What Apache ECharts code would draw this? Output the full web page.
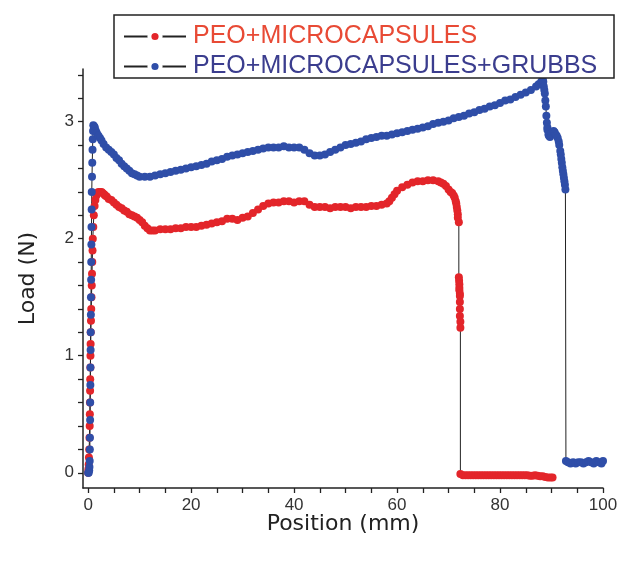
<!DOCTYPE html>
<html>
<head>
<meta charset="utf-8">
<style>
  html, body { margin: 0; padding: 0; background: #fff; }
  #chart { width: 623px; height: 561px; }
</style>
<script src="https://cdn.jsdelivr.net/npm/echarts@6/dist/echarts.min.js"></script>
</head>
<body>
<div id="chart"></div>
<script>
// ---- data (Position mm, Load N) ----
const seriesNames = ['PEO+MICROCAPSULES', 'PEO+MICROCAPSULES+GRUBBS'];

const redData = [
  [0,0],[0.05,0.03],[0.1,0.07],[0.15,0.13],[0.2,0.2],[0.25,0.3],[0.3,0.4],[0.33,0.5],[0.35,0.6],[0.38,0.7],
  [0.4,0.8],[0.43,0.9],[0.45,1.0],[0.48,1.1],[0.5,1.2],[0.55,1.3],[0.6,1.4],[0.65,1.5],[0.7,1.6],[0.75,1.7],
  [0.8,1.8],[0.85,1.9],[0.9,2.0],[1.0,2.1],[1.1,2.2],[1.25,2.28],[1.4,2.33],[1.6,2.37],[1.8,2.39],[2.0,2.40],
  [2.3,2.40],[2.6,2.40],[2.8,2.39],[3.1,2.38],[3.3,2.37],[3.6,2.36],[4,2.34],[4.5,2.33],[5,2.31],[5.5,2.29],
  [6,2.27],[6.5,2.26],[7,2.24],[7.5,2.23],[8,2.21],[8.5,2.20],[9,2.19],[9.5,2.18],[10,2.16],[10.5,2.14],
  [11,2.11],[11.5,2.09],[12,2.07],[12.5,2.07],[13,2.07],[14,2.08],[15,2.08],
  [16,2.08],[17,2.09],[18,2.09],[19,2.10],[20,2.10],[21,2.10],[22,2.11],[23,2.12],[24,2.13],[25,2.14],
  [26,2.15],[27,2.17],[28,2.17],[29,2.16],[30,2.18],[31,2.19],[32,2.22],[33,2.25],[34,2.28],[35,2.30],
  [36,2.31],[37,2.31],[38,2.32],[39,2.32],[40,2.31],[41,2.32],[42,2.32],[43,2.29],[44,2.27],[45,2.27],
  [46,2.27],[47,2.26],[48,2.27],[49,2.27],[50,2.27],[51,2.26],[52,2.27],[53,2.27],[54,2.27],[55,2.28],
  [56,2.28],[57,2.29],[58,2.30],[58.5,2.32],[59,2.35],[59.5,2.38],[60,2.41],[61,2.44],[62,2.46],[63,2.48],
  [64,2.49],[65,2.49],[66,2.50],[67,2.50],[68,2.49],[68.5,2.48],[69,2.47],[69.5,2.45],[70,2.42],[70.4,2.40],
  [70.7,2.39],[71,2.37],[71.2,2.35],[71.4,2.32],[71.5,2.30],[71.6,2.27],[71.7,2.24],[71.8,2.21],
  [71.8,2.18],[72,2.14],
  [72.0,1.67],[72.05,1.64],[72.1,1.61],[72.1,1.58],[72.1,1.56],[72.2,1.53],[72.2,1.51],[72.2,1.46],
  [72.2,1.40],[72.2,1.34],[72.3,1.29],[72.3,1.24],
  [72.3,-0.01],[72.8,-0.02],[73.3,-0.02],[73.8,-0.02],[74.3,-0.02],[74.8,-0.02],[75.3,-0.02],[75.8,-0.02],
  [76.3,-0.02],[76.8,-0.02],[77.3,-0.02],[77.8,-0.02],[78.3,-0.02],[78.8,-0.02],[79.3,-0.02],[79.8,-0.02],
  [80.3,-0.02],[80.8,-0.02],[81.3,-0.02],[81.8,-0.02],[82.3,-0.02],[82.8,-0.02],[83.3,-0.02],[83.8,-0.02],
  [84.3,-0.02],[84.8,-0.02],[85.3,-0.02],[85.8,-0.025],[86.3,-0.025],[86.8,-0.02],[87.3,-0.025],
  [87.8,-0.03],[88.3,-0.03],[88.8,-0.035],[89.3,-0.04],[89.8,-0.04],[90.2,-0.04]
];

const blueData = [
  [0,0],[0.1,0.0],[0.2,0.02],[0.25,0.05],[0.3,0.1],[0.33,0.2],[0.35,0.3],[0.38,0.45],[0.4,0.6],[0.43,0.75],
  [0.45,0.9],[0.48,1.05],[0.5,1.2],[0.53,1.35],[0.55,1.5],[0.58,1.65],[0.6,1.8],[0.63,1.95],[0.65,2.1],
  [0.68,2.25],[0.7,2.4],[0.75,2.53],[0.8,2.65],[0.85,2.76],[0.9,2.85],[0.95,2.92],[1.0,2.97],[1.15,2.96],
  [1.3,2.95],[1.5,2.92],[1.7,2.90],[2.0,2.88],[2.3,2.86],[2.6,2.84],[3,2.81],[3.5,2.78],[4,2.76],[4.5,2.74],
  [5,2.72],[5.5,2.69],[6,2.67],[6.5,2.64],[7,2.62],[7.5,2.60],[8,2.58],[8.5,2.56],[9,2.55],[9.5,2.54],
  [10,2.53],[11,2.53],[12,2.53],[13,2.54],[14,2.55],[15,2.56],
  [16,2.57],[17,2.58],[18,2.59],[19,2.60],[20,2.61],[21,2.62],[22,2.63],[23,2.64],[24,2.66],[25,2.67],
  [26,2.68],[27,2.70],[28,2.71],[29,2.72],[30,2.73],[31,2.74],[32,2.75],[33,2.76],[34,2.77],[35,2.78],
  [36,2.78],[37,2.78],[38,2.79],[39,2.78],[40,2.78],[41,2.78],[42,2.76],[43,2.73],[44,2.71],[45,2.71],
  [46,2.72],[47,2.74],[48,2.76],[49,2.78],[50,2.80],[51,2.81],[52,2.82],[53,2.83],[54,2.85],[55,2.86],
  [56,2.87],[57,2.88],[58,2.88],[59,2.89],[60,2.90],[61,2.91],[62,2.92],[63,2.93],[64,2.94],[65,2.95],
  [66,2.96],[67,2.98],[68,2.99],[69,3.00],[70,3.01],[71,3.03],[72,3.04],[73,3.05],[74,3.07],[75,3.08],
  [76,3.10],[77,3.11],[78,3.13],[79,3.14],[80,3.16],[81,3.18],[82,3.19],[83,3.21],[84,3.23],[85,3.25],
  [86,3.27],[87,3.30],[87.5,3.32],[88,3.34],[88.3,3.36],[88.4,3.34],[88.5,3.30],[88.6,3.27],[88.7,3.24],
  [88.8,3.18],[88.9,3.13],
  [89,3.05],[89.1,2.99],[89.2,2.95],[89.2,2.93],[89.4,2.89],[89.5,2.88],[89.7,2.87],[89.9,2.89],[90,2.90],
  [90.2,2.91],[90.4,2.92],[90.6,2.91],[90.8,2.89],[91.0,2.88],[91.2,2.86],[91.4,2.83],[91.5,2.80],
  [91.7,2.75],[91.8,2.72],[91.9,2.68],[92,2.65],[92.1,2.61],[92.2,2.58],[92.3,2.55],[92.4,2.52],[92.5,2.49],
  [92.6,2.46],[92.7,2.42],
  [92.8,0.10],[93.2,0.09],[93.7,0.08],[94.2,0.09],[94.7,0.08],[95.2,0.09],[95.7,0.09],[96.2,0.08],
  [96.7,0.09],[97.2,0.10],[97.7,0.09],[98.2,0.08],[98.7,0.10],[99.2,0.09],[99.7,0.08],[100,0.10]
];

const xMajorTicks = [0, 20, 40, 60, 80, 100];
const xAllTicks = [0, 5, 10, 15, 20, 25, 30, 35, 40, 45, 50, 55, 60, 65, 70, 75, 80, 85, 90, 95, 100];
const yMajorTicks = [0, 1, 2, 3];
const yAllTicks = [0, 0.2, 0.4, 0.6, 0.8, 1, 1.2, 1.4, 1.6, 1.8, 2, 2.2, 2.4, 2.6, 2.8, 3, 3.2, 3.4];

const X_MIN = -1, X_MAX = 100, Y_MIN = -0.13, Y_MAX = 3.45;

const redColor = '#e3252a';
const blueColor = '#2f4ea8';
const labelFont = 'Liberation Sans, Arial, sans-serif';
const titleFont = 'DejaVu Sans, Verdana, sans-serif';

const axisLine = { show: true, onZero: false, lineStyle: { color: '#222', width: 1.5 } };

const chart = echarts.init(document.getElementById('chart'));
chart.setOption({
  animation: false,
  backgroundColor: '#fff',
  grid: { left: 83, right: 20, top: 69, bottom: 73 },
  graphic: [{
    type: 'rect', z: 3,
    shape: { x: 114, y: 15, width: 500, height: 63 },
    style: { fill: '#fff', stroke: '#222', lineWidth: 1.5 }
  }],
  legend: {
    orient: 'vertical',
    left: 118, top: 19,
    itemWidth: 62, itemHeight: 14, itemGap: 5,
    z: 5,
    textStyle: { fontFamily: labelFont, fontSize: 25, padding: [0, 0, 0, 2] },
    data: [
      { name: seriesNames[0], textStyle: { color: '#e84a35' }, itemStyle: { borderColor: '#fff', borderWidth: 4 } },
      { name: seriesNames[1], textStyle: { color: '#3b3d8e' }, itemStyle: { borderColor: '#fff', borderWidth: 4 } }
    ]
  },
  xAxis: {
    type: 'value', min: X_MIN, max: X_MAX, position: 'bottom',
    name: 'Position (mm)', nameLocation: 'middle', nameGap: 25, nameMoveOverlap: false,
    nameTextStyle: { fontFamily: titleFont, fontSize: 22, color: '#222' },
    axisLine: axisLine,
    splitLine: { show: false },
    axisTick: { show: true, customValues: xAllTicks, length: 5, lineStyle: { color: '#222', width: 1.3 } },
    axisLabel: { show: true, customValues: xMajorTicks, margin: 9, fontFamily: labelFont, fontSize: 17, color: '#333' }
  },
  yAxis: {
    type: 'value', min: Y_MIN, max: Y_MAX, position: 'left',
    name: 'Load (N)', nameLocation: 'middle', nameGap: 44, nameRotate: 90, nameMoveOverlap: false,
    nameTextStyle: { fontFamily: titleFont, fontSize: 22, color: '#222' },
    axisLine: axisLine,
    splitLine: { show: false },
    axisTick: { show: true, customValues: yAllTicks, length: 5, lineStyle: { color: '#222', width: 1.3 } },
    axisLabel: { show: true, customValues: yMajorTicks, margin: 9, fontFamily: labelFont, fontSize: 17, color: '#333' }
  },
  series: [{
    name: seriesNames[0], type: 'line',
    data: redData,
    symbol: 'circle', symbolSize: 8, showSymbol: true, showAllSymbol: true,
    itemStyle: { color: redColor },
    lineStyle: { color: '#222', width: 1 },
    z: 2
  }, {
    name: seriesNames[1], type: 'line',
    data: blueData,
    symbol: 'circle', symbolSize: 8, showSymbol: true, showAllSymbol: true,
    itemStyle: { color: blueColor },
    lineStyle: { color: '#222', width: 1 },
    z: 2
  }]
});
</script>
</body>
</html>
